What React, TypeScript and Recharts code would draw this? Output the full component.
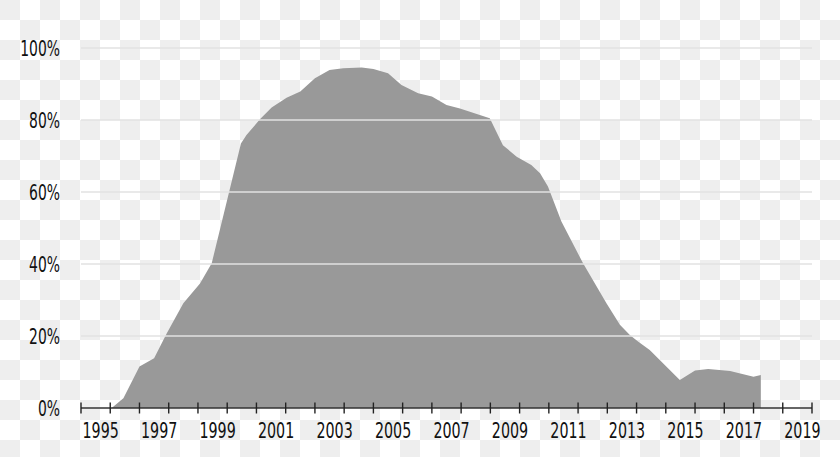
import { AreaChart, Area, XAxis, YAxis, ReferenceLine } from "recharts";

// share of the market, in percent
const years = [
  1996.05, 1996.45, 1997.0, 1997.5, 1997.93, 1998.5, 1999.07, 1999.47, 2000.47, 2000.66,
  2001.12, 2001.52, 2002.03, 2002.5, 2003.0, 2003.5, 2003.97, 2004.6, 2005.0, 2005.5,
  2005.96, 2006.53, 2007.0, 2007.5, 2007.96, 2008.98, 2009.43, 2009.9, 2010.4, 2010.7,
  2010.97, 2011.43, 2012.17, 2012.97, 2013.43, 2013.77, 2014.05, 2014.45, 2015.48, 2016.0,
  2016.45, 2017.2, 2018.0, 2018.25,
];
const share = [
  0, 2.7, 11.5, 13.8, 20.7, 29.1, 34.6, 40.2, 73.5, 75.8,
  80.2, 83.5, 86.2, 87.9, 91.6, 93.9, 94.4, 94.6, 94.2, 93.0,
  89.7, 87.4, 86.5, 84.2, 83.2, 80.5, 73.0, 69.8, 67.5, 65.2,
  61.5, 51.8, 40.2, 29.1, 23.1, 20.3, 18.5, 16.1, 7.8, 10.4,
  10.8, 10.3, 8.7, 9.2,
];

const yearTicks = [
  1995, 1996, 1997, 1998, 1999, 2000, 2001, 2002, 2003, 2004, 2005, 2006, 2007,
  2008, 2009, 2010, 2011, 2012, 2013, 2014, 2015, 2016, 2017, 2018, 2019, 2020,
];
const labelYears = [1995, 1997, 1999, 2001, 2003, 2005, 2007, 2009, 2011, 2013, 2015, 2017, 2019];
const percentTicks = [0, 20, 40, 60, 80, 100];
const gridLevels = [20, 40, 60, 80, 100];

const data = years.map((year, i) => ({ year, share: share[i] }));

const FONT = "DejaVu Sans";

function YearTick({ x, y, payload }: any) {
  const showLabel = labelYears.includes(payload.value);
  return (
    <g>
      <line x1={x} x2={x} y1={y - 5.5} y2={y + 5.5} stroke="#222" strokeWidth={1.4} />
      {showLabel && (
        <text
          transform={`translate(${x + 1.5},${y + 29.5}) scale(0.68,1)`}
          fontFamily={FONT}
          fontSize={21}
          fill="#111"
        >
          {payload.value}
        </text>
      )}
    </g>
  );
}

function PercentTick({ x, y, payload }: any) {
  return (
    <text
      transform={`translate(${x - 21},${y + 8}) scale(0.68,1)`}
      fontFamily={FONT}
      fontSize={20.5}
      fill="#111"
      textAnchor="end"
    >
      {payload.value}%
    </text>
  );
}

export default function App() {
  return (
    <div
      style={{
        position: "absolute",
        left: 0,
        top: 0,
        width: 840,
        height: 457,
        backgroundImage: "conic-gradient(#fff 25%, #eee 0 50%, #fff 0 75%, #eee 0)",
        backgroundSize: "40px 40px",
      }}
    >
      <AreaChart width={840} height={457} data={data} margin={{ top: 48, right: 28, left: 0, bottom: 0 }}>
        <XAxis
          dataKey="year"
          type="number"
          domain={[1995, 2020]}
          ticks={yearTicks}
          interval={0}
          height={49}
          tickSize={0}
          tickMargin={0}
          tickLine={false}
          axisLine={{ stroke: "#333", strokeWidth: 1.4 }}
          tick={<YearTick />}
        />
        <YAxis
          type="number"
          domain={[0, 100]}
          ticks={percentTicks}
          interval={0}
          width={81}
          tickSize={0}
          tickMargin={0}
          tickLine={false}
          axisLine={false}
          tick={<PercentTick />}
        />
        <Area
          type="linear"
          dataKey="share"
          baseValue={0}
          fill="#999999"
          fillOpacity={1}
          stroke="none"
          dot={false}
          activeDot={false}
          isAnimationActive={false}
        />
        {gridLevels.map((v) => (
          <ReferenceLine key={v} y={v} stroke="#e2e2e2" strokeWidth={1.5} />
        ))}
      </AreaChart>
    </div>
  );
}
